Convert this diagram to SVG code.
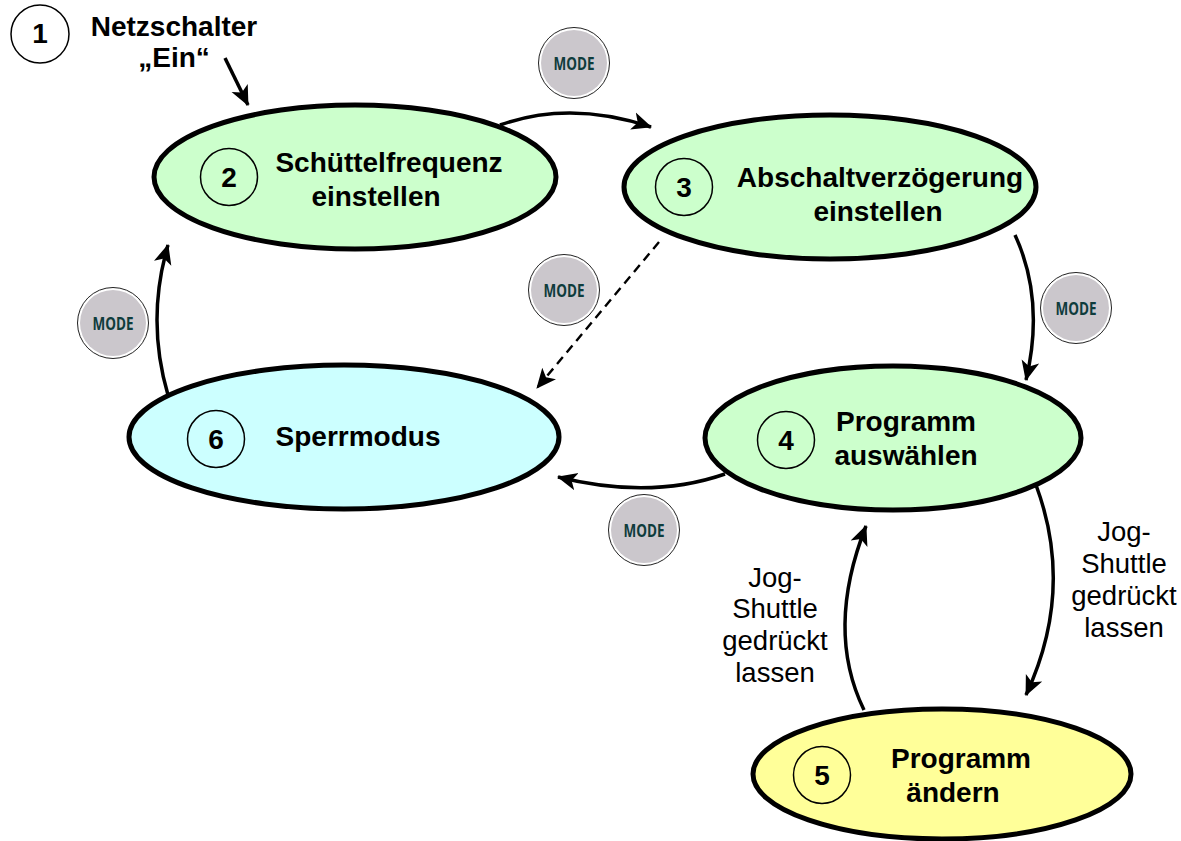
<svg xmlns="http://www.w3.org/2000/svg" width="1181" height="841" viewBox="0 0 1181 841">
<style>
text{font-family:"Liberation Sans",Arial,sans-serif;fill:#000;text-anchor:middle}
.b{font-weight:bold;font-size:28px}
.r{font-size:27.5px}
.e{stroke:#000;stroke-width:5px}
.c{fill:none;stroke:#000;stroke-width:1.5px}
.k{fill:none;stroke:#000;stroke-width:3.5px;marker-end:url(#a)}
.d{stroke-dasharray:9 6;stroke-width:2.4px}
.m{font-size:17px;font-weight:bold;fill:#0f3c3c;font-family:"Open Sans",sans-serif}
</style>
<defs>
<marker id="a" markerUnits="userSpaceOnUse" markerWidth="22" markerHeight="20" refX="19" refY="10" orient="auto"><path d="M0 1L20 10L0 19L5 10Z" fill="#000"/></marker>
<g id="mode"><circle r="35.5" fill="#fff" stroke="#222" stroke-width="1"/><circle r="33" fill="#cbc7cc"/><text y="7" class="m" textLength="41" lengthAdjust="spacingAndGlyphs">MODE</text></g>
</defs>
<g id="n1"><circle class="c" cx="40" cy="34" r="29"/><text x="40" y="43" class="b">1</text><text x="174" y="36" class="b">Netzschalter</text><text x="174" y="67" class="b">„Ein“</text></g>
<g id="n2"><ellipse class="e" cx="355" cy="177" rx="201" ry="72" fill="#ccffcc"/><circle class="c" cx="229" cy="177" r="28.500"/><text x="229" y="187" class="b">2</text><text x="389" y="172" class="b">Schüttelfrequenz</text><text x="376" y="206" class="b">einstellen</text></g>
<g id="n3"><ellipse class="e" cx="830" cy="187" rx="206" ry="72" fill="#ccffcc"/><circle class="c" cx="684" cy="187" r="28.500"/><text x="684" y="197" class="b">3</text><text x="880" y="187" class="b">Abschaltverzögerung</text><text x="878" y="221" class="b">einstellen</text></g>
<g id="n4"><ellipse class="e" cx="893" cy="438" rx="188" ry="72" fill="#ccffcc"/><circle class="c" cx="786" cy="440" r="28.500"/><text x="786" y="450" class="b">4</text><text x="906" y="431" class="b">Programm</text><text x="906" y="465" class="b">auswählen</text></g>
<g id="n5"><ellipse class="e" cx="942" cy="774" rx="189" ry="65" fill="#ffff99"/><circle class="c" cx="822" cy="775" r="28.500"/><text x="822" y="785" class="b">5</text><text x="961" y="768" class="b">Programm</text><text x="953" y="802" class="b">ändern</text></g>
<g id="n6"><ellipse class="e" cx="344" cy="437" rx="215" ry="72" fill="#ccffff"/><circle class="c" cx="216" cy="439" r="28.500"/><text x="216" y="449" class="b">6</text><text x="358" y="446" class="b">Sperrmodus</text></g>
<g id="connectors">
<path class="k" d="M225 58L248 105"/>
<path class="k" d="M500 125Q570 100 651 127"/>
<path class="k" d="M1015 235Q1045 300 1026 380"/>
<path class="k d" d="M659 242L537 388"/>
<path class="k" d="M725 474Q650 500 558 477"/>
<path class="k" d="M168 395Q146 320 168 245"/>
<path class="k" d="M1036 485Q1075 590 1026 695"/>
<path class="k" d="M864 710Q825 630 866 526"/>
</g>
<g id="labels">
<text x="775" y="587" class="r">Jog-</text><text x="775" y="618" class="r">Shuttle</text><text x="775" y="650" class="r">gedrückt</text><text x="775" y="682" class="r">lassen</text>
<text x="1124" y="541" class="r">Jog-</text><text x="1124" y="573" class="r">Shuttle</text><text x="1124" y="605" class="r">gedrückt</text><text x="1124" y="637" class="r">lassen</text>
</g>
<g id="modes">
<use href="#mode" x="574" y="63"/>
<use href="#mode" x="564" y="290"/>
<use href="#mode" x="1076" y="308"/>
<use href="#mode" x="113" y="323"/>
<use href="#mode" x="644" y="530"/>
</g>
</svg>
